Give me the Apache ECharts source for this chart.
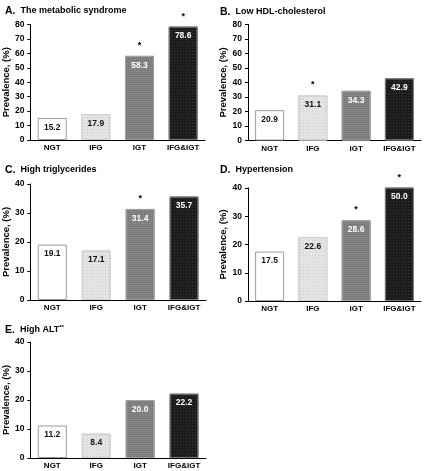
<!DOCTYPE html>
<html><head><meta charset="utf-8">
<script src="https://cdn.jsdelivr.net/npm/echarts@6/dist/echarts.min.js"></script>
<style>html,body{margin:0;padding:0;background:#fff}#c{width:426px;height:471px}</style>
</head><body><div id="c"></div>
<script>
// ---- data ----
const categories = ['NGT', 'IFG', 'IGT', 'IFG&IGT'];
const panelLetters = ['A.', 'B.', 'C.', 'D.', 'E.'];
const panelNames = ['The metabolic syndrome', 'Low HDL-cholesterol', 'High triglycerides', 'Hypertension', 'High ALT'];
const panelSuperscripts = ['', '', '', '', '**'];
const valuesA = [15.2, 17.9, 58.3, 78.6];
const valuesB = [20.9, 31.1, 34.3, 42.9];
const valuesC = [19.1, 17.1, 31.4, 35.7];
const valuesD = [17.5, 22.6, 28.6, 50.0];
const valuesE = [11.2, 8.4, 20.0, 22.2];
const starsA = [false, false, true, true];
const starsB = [false, true, false, false];
const starsC = [false, false, true, false];
const starsD = [false, false, true, true];
const starsE = [false, false, false, false];
const yMaxes = [80, 80, 40, 40, 40];
const yInterval = 10;
const yAxisName = 'Prevalence, (%)';

const allValues = [valuesA, valuesB, valuesC, valuesD, valuesE];
const allStars = [starsA, starsB, starsC, starsD, starsE];

// ---- layout / style ----
const FONT = '"Liberation Sans", Arial, Helvetica, sans-serif';
const layout = [
  { left: 30, top: 24.5, width: 175, height: 115.5, tLeft: 5, tTop: 2, gap: 18 },
  { left: 248, top: 24.5, width: 173, height: 116, tLeft: 220, tTop: 3, gap: 15 },
  { left: 30, top: 184, width: 176, height: 116, tLeft: 5, tTop: 161, gap: 18 },
  { left: 248, top: 188, width: 173, height: 113, tLeft: 220, tTop: 161, gap: 15 },
  { left: 30, top: 342, width: 176, height: 116, tLeft: 5, tTop: 321, gap: 18 }
];
const barStyles = [
  { color: '#ffffff', borderColor: '#9a9a9a', label: '#111' },
  { color: '#e4e4e4', borderColor: '#d0d0d0', label: '#111' },
  { color: '#858585', borderColor: '#a0a0a0', label: '#ffffff' },
  { color: '#1c1c1c', borderColor: '#7a7a7a', label: '#ffffff' }
];
const decals = [
  null,
  { symbol: 'rect', symbolSize: 1, dashArrayX: [1, 2], dashArrayY: [1, 2], color: 'rgba(190,190,190,0.6)' },
  { symbol: 'rect', symbolSize: 1, dashArrayX: [1, 1], dashArrayY: [1, 1], color: 'rgba(60,60,60,0.25)' },
  { symbol: 'rect', symbolSize: 1, dashArrayX: [1, 2], dashArrayY: [1, 2], color: 'rgba(90,90,90,0.45)' }
];

const title = [], grid = [], xAxis = [], yAxis = [], series = [];
layout.forEach((L, i) => {
  title.push({
    left: L.tLeft, top: L.tTop, padding: 0,
    text: '{l|' + panelLetters[i] + '} {n|' + panelNames[i] + '}' + (panelSuperscripts[i] ? '{s|' + panelSuperscripts[i] + '}' : ''),
    textStyle: {
      rich: {
        l: { fontFamily: FONT, fontSize: 10.5, fontWeight: 'bold', color: '#000', lineHeight: 12 },
        n: { fontFamily: FONT, fontSize: 9, fontWeight: 'bold', color: '#000', lineHeight: 12 },
        s: { fontFamily: FONT, fontSize: 6, fontWeight: 'bold', color: '#000', lineHeight: 6, verticalAlign: 'top', padding: [3, 0, 0, 0] }
      }
    }
  });
  grid.push({ left: L.left, top: L.top, width: L.width, height: L.height, containLabel: false });
  xAxis.push({
    gridIndex: i, type: 'category', data: categories,
    axisLine: { lineStyle: { color: '#000', width: 1 } },
    axisTick: { show: false },
    axisLabel: { color: '#000', fontFamily: FONT, fontWeight: 'bold', fontSize: 8, margin: 4, interval: 0 }
  });
  yAxis.push({
    gridIndex: i, type: 'value', min: 0, max: yMaxes[i], interval: yInterval,
    name: yAxisName, nameLocation: 'middle', nameGap: L.gap,
    nameTextStyle: { color: '#000', fontFamily: FONT, fontWeight: 'bold', fontSize: 9.5 },
    axisLine: { show: true, lineStyle: { color: '#000', width: 1 } },
    axisTick: { show: true, inside: false, length: 3, lineStyle: { color: '#000' } },
    splitLine: { show: false },
    axisLabel: { color: '#000', fontFamily: FONT, fontWeight: 'bold', fontSize: 8.5, margin: 6 }
  });
  series.push({
    type: 'bar', xAxisIndex: i, yAxisIndex: i, barWidth: 29, clip: true,
    data: allValues[i].map((v, k) => ({
      value: v,
      itemStyle: Object.assign({ color: barStyles[k].color, borderColor: barStyles[k].borderColor, borderWidth: 1 },
        decals[k] ? { decal: decals[k] } : {}),
      label: { color: barStyles[k].label }
    })),
    label: {
      show: true, position: 'insideTop', distance: 5,
      fontFamily: FONT, fontWeight: 'bold', fontSize: 8.5,
      formatter: p => p.value.toFixed(1)
    }
  });
  series.push({
    type: 'bar', xAxisIndex: i, yAxisIndex: i, barWidth: 29, barGap: '-100%', clip: true,
    silent: true,
    data: allValues[i].map((v, k) => ({
      value: v,
      itemStyle: { color: 'rgba(0,0,0,0)' },
      label: { show: allStars[i][k] }
    })),
    label: {
      position: 'top', distance: 6, color: '#000',
      fontFamily: FONT, fontWeight: 'bold', fontSize: 9,
      formatter: '*'
    }
  });
});

const chart = echarts.init(document.getElementById('c'), null, { renderer: 'canvas' });
chart.setOption({ animation: false, backgroundColor: '#fff', title, grid, xAxis, yAxis, series });
</script>
</body></html>
